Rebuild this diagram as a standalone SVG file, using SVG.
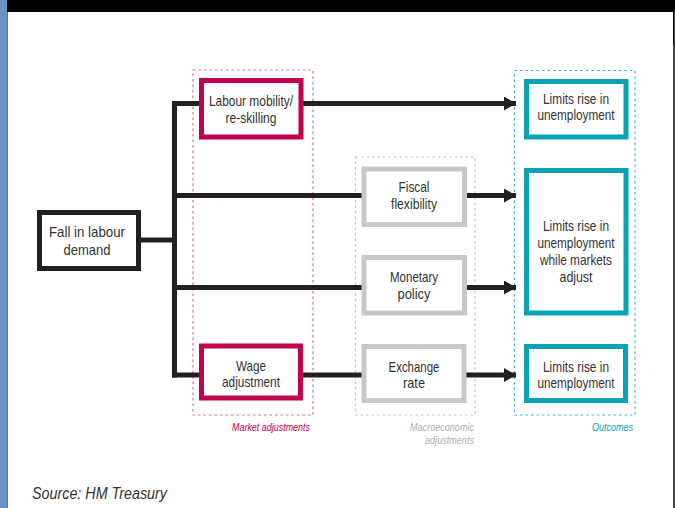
<svg xmlns="http://www.w3.org/2000/svg" width="675" height="508" viewBox="0 0 675 508">
<style>
.t{font-family:"Liberation Sans",Arial,sans-serif;font-size:14.5px;fill:#333;text-anchor:middle}
.lbl{font-family:"Liberation Sans",Arial,sans-serif;font-size:11px;font-style:italic;text-anchor:end}
.ln{stroke:#231f20;stroke-width:5;fill:none}
.mk{fill:#fff;stroke:#c1004f;stroke-width:5}
.mc{fill:#fff;stroke:#c6c8cb;stroke-width:5}
.oc{fill:#fff;stroke:#0aa3b5;stroke-width:5}
.blk{fill:#fff;stroke:#231f20;stroke-width:5}
.dash{fill:none;stroke-width:1.2;stroke-dasharray:2.5 3}
</style>
<defs>
<marker id="ah" viewBox="0 0 12 14" refX="12" refY="7" markerWidth="12" markerHeight="14" markerUnits="userSpaceOnUse" orient="auto">
<path d="M0,0 L12,7 L0,14 Z" fill="#231f20"/>
</marker>
</defs>
<rect x="0" y="0" width="675" height="508" fill="#fff"/>
<rect x="0" y="0" width="675" height="12" fill="#000"/>
<rect x="0" y="0" width="7" height="508" fill="#6a92c4"/>
<rect x="7" y="12" width="1" height="496" fill="#777"/>
<rect x="673" y="12" width="2" height="496" fill="#3a4656"/>
<rect x="673" y="12" width="1" height="33" fill="#000"/>

<g id="groups">
<rect class="dash" x="193" y="70" width="120" height="345" stroke="#e26a8e"/>
<rect class="dash" x="355.5" y="157" width="119.5" height="258" stroke="#c4c4c4"/>
<rect class="dash" x="514.5" y="70.5" width="120.5" height="344.5" stroke="#3fb6c6"/>
<text class="lbl" x="310" y="431" fill="#c1004f" textLength="78" lengthAdjust="spacingAndGlyphs">Market adjustments</text>
<text class="lbl" x="474" y="431" fill="#aeb1b4" textLength="64" lengthAdjust="spacingAndGlyphs">Macroeconomic</text>
<text class="lbl" x="474" y="444" fill="#aeb1b4" textLength="49" lengthAdjust="spacingAndGlyphs">adjustments</text>
<text class="lbl" x="633" y="431" fill="#0aa3b5" textLength="41" lengthAdjust="spacingAndGlyphs">Outcomes</text>
</g>

<g id="connectors">
<path class="ln" d="M140,240 H174.5 M174.5,101 V377.5"/>
<path class="ln" d="M172,103.5 H200"/>
<path class="ln" d="M303,103.5 H516" marker-end="url(#ah)"/>
<path class="ln" d="M172,195.5 H362"/>
<path class="ln" d="M466,195.5 H516" marker-end="url(#ah)"/>
<path class="ln" d="M172,287.5 H362"/>
<path class="ln" d="M466,287.5 H516" marker-end="url(#ah)"/>
<path class="ln" d="M172,375 H200"/>
<path class="ln" d="M302,375 H362"/>
<path class="ln" d="M466,375 H516" marker-end="url(#ah)"/>
</g>

<g id="fall">
<rect class="blk" x="39.5" y="212.5" width="99" height="56"/>
<text class="t" x="87" y="237" textLength="76" lengthAdjust="spacingAndGlyphs">Fall in labour</text>
<text class="t" x="87" y="255" textLength="47" lengthAdjust="spacingAndGlyphs">demand</text>
</g>

<g id="labour">
<rect class="mk" x="201.5" y="80.5" width="99.5" height="56.5"/>
<text class="t" x="251" y="106" textLength="84" lengthAdjust="spacingAndGlyphs">Labour mobility/</text>
<text class="t" x="251" y="123" textLength="51" lengthAdjust="spacingAndGlyphs">re-skilling</text>
</g>

<g id="wage">
<rect class="mk" x="201.5" y="346" width="99" height="52"/>
<text class="t" x="251" y="371" textLength="30" lengthAdjust="spacingAndGlyphs">Wage</text>
<text class="t" x="251" y="387" textLength="58" lengthAdjust="spacingAndGlyphs">adjustment</text>
</g>

<g id="fiscal">
<rect class="mc" x="364" y="169" width="100.5" height="55.5"/>
<text class="t" x="414" y="192" textLength="31" lengthAdjust="spacingAndGlyphs">Fiscal</text>
<text class="t" x="414" y="208.5" textLength="46" lengthAdjust="spacingAndGlyphs">flexibility</text>
</g>

<g id="monetary">
<rect class="mc" x="364" y="257.5" width="100.5" height="55.5"/>
<text class="t" x="414" y="282" textLength="48" lengthAdjust="spacingAndGlyphs">Monetary</text>
<text class="t" x="414" y="298.5" textLength="33" lengthAdjust="spacingAndGlyphs">policy</text>
</g>

<g id="exchange">
<rect class="mc" x="364" y="346.5" width="100" height="54"/>
<text class="t" x="414" y="372" textLength="51" lengthAdjust="spacingAndGlyphs">Exchange</text>
<text class="t" x="414" y="388" textLength="22" lengthAdjust="spacingAndGlyphs">rate</text>
</g>

<g id="out1">
<rect class="oc" x="526.5" y="81.5" width="99.5" height="55.5"/>
<text class="t" x="576" y="103.5" textLength="66" lengthAdjust="spacingAndGlyphs">Limits rise in</text>
<text class="t" x="576" y="120" textLength="77" lengthAdjust="spacingAndGlyphs">unemployment</text>
</g>

<g id="out2">
<rect class="oc" x="526.5" y="170.5" width="99.5" height="142.5"/>
<text class="t" x="576" y="231" textLength="66" lengthAdjust="spacingAndGlyphs">Limits rise in</text>
<text class="t" x="576" y="248" textLength="77" lengthAdjust="spacingAndGlyphs">unemployment</text>
<text class="t" x="576" y="265" textLength="72" lengthAdjust="spacingAndGlyphs">while markets</text>
<text class="t" x="576" y="282" textLength="33" lengthAdjust="spacingAndGlyphs">adjust</text>
</g>

<g id="out3">
<rect class="oc" x="526.5" y="346.5" width="99" height="54"/>
<text class="t" x="576" y="372" textLength="66" lengthAdjust="spacingAndGlyphs">Limits rise in</text>
<text class="t" x="576" y="388" textLength="77" lengthAdjust="spacingAndGlyphs">unemployment</text>
</g>

<text x="32" y="499" font-family="'Liberation Sans',Arial,sans-serif" font-size="16" font-style="italic" fill="#333" textLength="135" lengthAdjust="spacingAndGlyphs">Source: HM Treasury</text>
</svg>
